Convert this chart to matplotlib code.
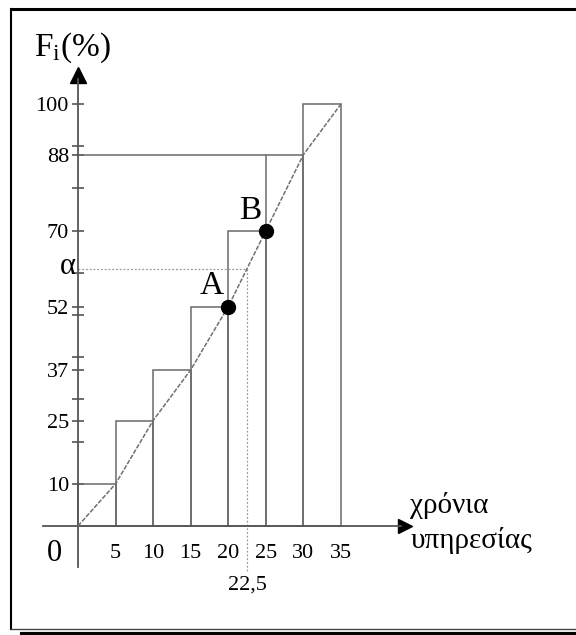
#!/usr/bin/env python3
# -*- coding: utf-8 -*-
"""
Ogive (cumulative relative frequency) of years of service
"""
import matplotlib
matplotlib.use("Agg")
import matplotlib.pyplot as plt
from matplotlib.lines import Line2D

#%% Data
class_left = [0, 5, 10, 15, 20, 25, 30]       # left edge of each class
class_width = 5
cum_freq = [10, 25, 37, 52, 70, 88, 100]      # F_i (%)
ogive_x = [0, 5, 10, 15, 20, 25, 30, 35]
ogive_y = [0, 10, 25, 37, 52, 70, 88, 100]
xtick_vals = [5, 10, 15, 20, 25, 30, 35]
ytick_labelled = [10, 25, 37, 52, 70, 88, 100]
ytick_minor = [20, 30, 40, 50, 60, 80, 90]
x_median = 22.5                                # read-off value
alpha_val = 61                                 # F at 22.5
pt_A = (20, 52)
pt_B = (25, 70)

plt.rcParams['font.family'] = ['Liberation Serif', 'DejaVu Serif']
plt.rcParams['mathtext.fontset'] = 'custom'
plt.rcParams['mathtext.rm'] = 'Liberation Serif'

#%% Figure: data units chosen so that 1 unit x = 7.514 px, 1 unit y = 4.22 px
fig = plt.figure(figsize=(5.76, 6.35), dpi=100)
ax = fig.add_axes([0, 0, 1, 1])
ax.set_xlim(-78 / 7.514, (576 - 78) / 7.514)
ax.set_ylim(-(635 - 526) / 4.22, 526 / 4.22)
ax.patch.set_alpha(0)

axis_col = '#555555'
bar_col = '#6a6a6a'

# bars of the cumulative histogram
ax.bar(class_left, cum_freq, width=class_width, align='edge',
       facecolor='none', edgecolor=bar_col, linewidth=1.1, zorder=2)
# guide line at 88
ax.hlines(cum_freq[5], 0, class_left[5], color=bar_col, linewidth=1.1, zorder=2)

# ogive
ax.plot(ogive_x, ogive_y, color='#707070', linewidth=1.1,
        linestyle=(0, (3, 1)), zorder=3)

# reading lines for alpha
ax.plot([0, x_median], [alpha_val, alpha_val], color='#9a9a9a',
        linewidth=0.9, linestyle=(0, (1.5, 1.5)), zorder=2)
ax.plot([x_median, x_median], [alpha_val, -11], color='#9a9a9a',
        linewidth=0.9, linestyle=(0, (1.5, 1.5)), zorder=2)

# points A, B
ax.plot([pt_A[0], pt_B[0]], [pt_A[1], pt_B[1]], 'o', color='black',
        markersize=10, zorder=5)
ax.annotate('A', pt_A, xytext=(-12, 15), textcoords='offset points',
            ha='center', va='center', fontsize=24)
ax.annotate('B', pt_B, xytext=(-11, 14), textcoords='offset points',
            ha='center', va='center', fontsize=24)

#%% Axes as spines through the origin
for s in ['top', 'right']:
    ax.spines[s].set_visible(False)
ax.spines['left'].set_position(('data', 0))
ax.spines['bottom'].set_position(('data', 0))
ax.spines['left'].set_bounds(-9.7, 106)
ax.spines['bottom'].set_bounds(-4.7, 43)
for s in ['left', 'bottom']:
    ax.spines[s].set_color(axis_col)
    ax.spines[s].set_linewidth(1.3)

ax.set_yticks(ytick_labelled)
ax.set_yticklabels([str(v) for v in ytick_labelled])
ax.set_yticks(ytick_minor, minor=True)
ax.tick_params(axis='y', which='both', direction='inout', length=9,
               width=1.2, color=axis_col, labelsize=16, pad=2)
ax.set_xticks(xtick_vals)
ax.set_xticklabels([str(v) for v in xtick_vals])
ax.tick_params(axis='x', which='both', length=0, labelsize=16, pad=13)

# arrow heads
ax.plot(0, 106.9, marker='^', color='black', markersize=11, clip_on=False)
ax.plot(43.5, 0, marker='>', color='black', markersize=10, clip_on=False)

# labels
ax.text(-0.7, 113.3, r'$\mathrm{F_i(\%)}$', ha='center', va='center', fontsize=24)
ax.text(44.2, 0.7, 'χρόνια\nυπηρεσίας', ha='left', va='center',
        fontsize=21, linespacing=1.35)
ax.text(-3.1, -6.6, '0', ha='center', va='center', fontsize=22)
ax.text(-0.3, alpha_val + 0.5, 'α', ha='right', va='center', fontsize=22)
ax.text(x_median, -14, '22,5', ha='center', va='center', fontsize=16)

#%% Outer frame
fig.add_artist(Line2D([11 / 576, 11 / 576], [1 - 9 / 635, 1 - 629 / 635],
                      transform=fig.transFigure, color='black', linewidth=1.5))
fig.add_artist(Line2D([11 / 576, 1], [1 - 9 / 635, 1 - 9 / 635],
                      transform=fig.transFigure, color='black', linewidth=2.2))
fig.add_artist(Line2D([11 / 576, 1], [1 - 629 / 635, 1 - 629 / 635],
                      transform=fig.transFigure, color='#444444', linewidth=1.0))
fig.add_artist(Line2D([22 / 576, 1], [1 - 633.5 / 635, 1 - 633.5 / 635],
                      transform=fig.transFigure, color='black', linewidth=3))

fig.savefig('out.png', dpi=100, facecolor='white')
